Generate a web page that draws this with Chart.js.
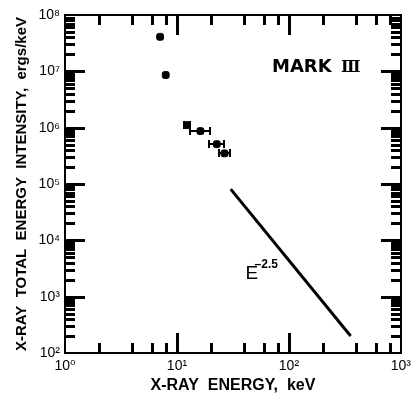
<!DOCTYPE html>
<html>
<head>
<meta charset="utf-8">
<script src="https://cdn.jsdelivr.net/npm/chart.js@4"></script>
<style>
  html, body { margin: 0; padding: 0; background: #fff; }
  #wrap { width: 416px; height: 399px; }
</style>
</head>
<body>
<div id="wrap"><canvas id="spec"></canvas></div>
<script>
// measured spectrum, energies in keV, intensity in ergs/keV
const energy = [7.07, 7.94, 12.3, 16.2, 22.7, 26.6];
const energyLo = [7.07, 7.94, 11.5, 13.2, 19.2, 23.9];
const energyHi = [7.07, 7.94, 13.2, 19.6, 26.1, 29.9];
const intensity = [4.1e7, 8.6e6, 1.11e6, 8.7e5, 5.1e5, 3.5e5];

// E^-2.5 reference slope
const slopeEnergy = [30.2, 356];
const slopeIntensity = [8.1e4, 2.0e2];

const xTicks = [1, 10, 100, 1000];
const yTicks = [1e2, 1e3, 1e4, 1e5, 1e6, 1e7, 1e8];
const xMinor = [2, 4, 6, 8];
const yMinor = [2, 3, 4, 5, 6, 7, 8, 9];

const SUP = { "0": "⁰", "1": "¹", "2": "²", "3": "³", "4": "⁴", "5": "⁵", "6": "⁶", "7": "⁷", "8": "⁸", "9": "⁹" };
const pow10 = (v) => "10" + String(Math.round(Math.log10(v))).split("").map((c) => SUP[c]).join("");

const FONT = "'Liberation Sans', 'DejaVu Sans', sans-serif";

// frame, inward ticks, error bars and labels, all placed through the scales
const decor = {
  id: "decor",
  afterDraw(chart) {
    const { ctx, chartArea: a, scales } = chart;
    const x = scales.x, y = scales.y;
    const L = Math.round(a.left), R = Math.round(a.right);
    const T = Math.round(a.top), B = Math.round(a.bottom);
    ctx.save();
    ctx.globalAlpha = 1;
    ctx.globalCompositeOperation = "source-over";
    ctx.fillStyle = "#000";

    // frame as four filled bars
    ctx.fillRect(L - 1, T - 1, R - L + 2, 2);
    ctx.fillRect(L - 1, B - 1, R - L + 2, 2);
    ctx.fillRect(L - 1, T - 1, 2, B - T + 2);
    ctx.fillRect(R - 1, T - 1, 2, B - T + 2);

    const vTick = (v, len) => {
      const px = Math.round(x.getPixelForValue(v));
      ctx.fillRect(px - 1, B - len, 3, len);
      ctx.fillRect(px - 1, T, 3, len);
    };
    const hTick = (v, len) => {
      const py = Math.round(y.getPixelForValue(v));
      ctx.fillRect(L, py - 1, len, 3);
      ctx.fillRect(R - len, py - 1, len, 3);
    };
    [1, 10, 100].forEach((d) => {
      xMinor.forEach((m) => vTick(d * m, 10));
      if (d > 1) vTick(d, 20);
    });
    [1e2, 1e3, 1e4, 1e5, 1e6, 1e7].forEach((d) => {
      yMinor.forEach((m) => hTick(d * m, 10));
      if (d > 1e2) hTick(d, 20);
    });

    // horizontal error bars with end caps
    energy.forEach((e, i) => {
      if (energyLo[i] === energyHi[i]) return;
      const py = Math.round(y.getPixelForValue(intensity[i]));
      const x0 = Math.round(x.getPixelForValue(energyLo[i]));
      const x1 = Math.round(x.getPixelForValue(energyHi[i]));
      ctx.fillRect(x0, py - 1, x1 - x0, 2);
      ctx.fillRect(x0 - 1, py - 4, 2, 8);
      ctx.fillRect(x1 - 1, py - 4, 2, 8);
    });

    ctx.textBaseline = "alphabetic";
    ctx.textAlign = "left";
    ctx.font = "bold 18px 'DejaVu Sans', sans-serif";
    ctx.fillText("MARK", 272, 72);
    ctx.font = "bold 16px 'DejaVu Serif', serif";
    ctx.fillText("Ⅲ", 341, 72);

    const ex = x.getPixelForValue(41);
    const ey = y.getPixelForValue(2.1e3);
    ctx.font = "19px 'Liberation Sans Narrow', " + FONT;
    ctx.fillText("E", ex, ey);
    ctx.font = "bold 12px " + FONT;
    ctx.fillText("–2.5", ex + 9, ey - 11);
    ctx.restore();
  }
};

new Chart(document.getElementById("spec"), {
  type: "scatter",
  data: {
    datasets: [
      {
        label: "Mark III",
        data: energy.map((e, i) => ({ x: e, y: intensity[i] })),
        backgroundColor: "#000",
        borderColor: "#000",
        pointStyle: "rectRounded",
        pointRadius: 4,
        pointHoverRadius: 4
      },
      {
        label: "E^-2.5",
        data: slopeEnergy.map((e, i) => ({ x: e, y: slopeIntensity[i] })),
        showLine: true,
        borderColor: "#000",
        borderWidth: 3,
        pointRadius: 0
      }
    ]
  },
  options: {
    responsive: true,
    maintainAspectRatio: false,
    animation: false,
    layout: { padding: { left: 13, top: 15, right: 12, bottom: 4 } },
    plugins: { legend: { display: false }, tooltip: { enabled: false } },
    scales: {
      x: {
        type: "logarithmic",
        min: 1, max: 1000,
        afterBuildTicks: (s) => { s.ticks = xTicks.map((v) => ({ value: v })); },
        afterFit: (s) => { s.height = 42; },
        grid: { display: false, drawTicks: false },
        border: { display: false },
        ticks: {
          color: "#000", padding: 5, maxRotation: 0, autoSkip: false,
          font: { family: FONT, size: 14 },
          callback: (v) => pow10(v)
        },
        title: {
          display: true, text: "X-RAY  ENERGY,  keV", color: "#000",
          font: { family: FONT, size: 16, weight: "bold" }, padding: 0
        }
      },
      y: {
        type: "logarithmic",
        min: 1e2, max: 1e8,
        afterBuildTicks: (s) => { s.ticks = yTicks.map((v) => ({ value: v })); },
        afterFit: (s) => { s.width = 52; },
        grid: { display: false, drawTicks: false },
        border: { display: false },
        ticks: {
          color: "#000", padding: 5, autoSkip: false,
          font: { family: FONT, size: 14 },
          callback: (v) => pow10(v)
        },
        title: {
          display: true, text: "X-RAY  TOTAL  ENERGY  INTENSITY,  ergs/keV", color: "#000",
          font: { family: FONT, size: 15, weight: "bold" }, padding: 0
        }
      }
    }
  },
  plugins: [decor]
});
</script>
</body>
</html>
